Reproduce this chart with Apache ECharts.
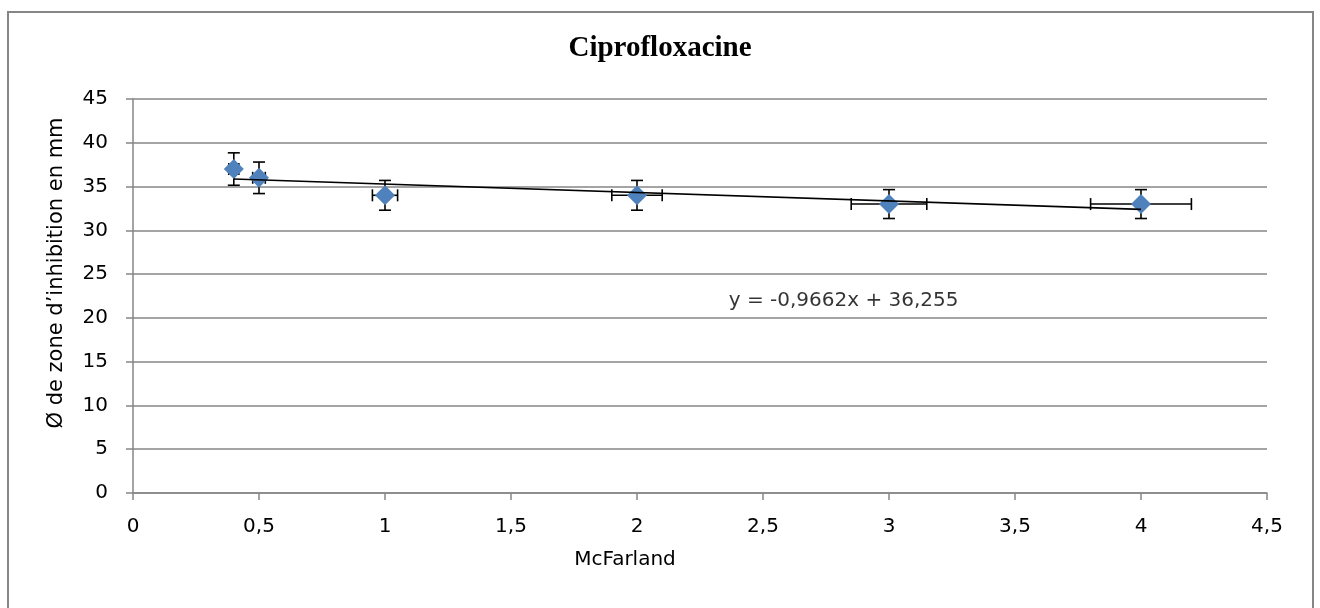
<!DOCTYPE html>
<html>
<head>
<meta charset="utf-8">
<script src="https://cdn.jsdelivr.net/npm/echarts@6/dist/echarts.min.js"></script>
<style>
  html, body { margin: 0; padding: 0; background: #fff; }
  #chart { width: 1320px; height: 608px; }
</style>
</head>
<body>
<div id="chart"></div>
<script>
// McFarland standards and measured inhibition zone diameters (mm)
const mcFarland = [0.4, 0.5, 1, 2, 3, 4];
const diameters = [37, 36, 34, 34, 33, 33];
const xErrors = [0.02, 0.025, 0.05, 0.1, 0.15, 0.2];
const yErrors = [1.85, 1.8, 1.7, 1.7, 1.65, 1.65];

// Linear trend line parameters
const trendSlope = -0.9662;
const trendIntercept = 36.255;
const trendLabel = 'y = -0,9662x + 36,255';
const trendLabelPos = [2.82, 22];

const xTicks = { min: 0, max: 4.5, interval: 0.5 };
const yTicks = { min: 0, max: 45, interval: 5 };

const FONT = '"DejaVu Sans", "Open Sans", sans-serif';
const FONT_SIZE = 20;
const GRAY = '#868686';

const fmt = v => String(v).replace('.', ',');

const points = mcFarland.map((x, i) => [x, diameters[i], xErrors[i], yErrors[i]]);
const xFirst = mcFarland[0], xLast = mcFarland[mcFarland.length - 1];
const trendData = [
  [xFirst, trendSlope * xFirst + trendIntercept],
  [xLast, trendSlope * xLast + trendIntercept]
];

const chart = echarts.init(document.getElementById('chart'));

// Horizontal and vertical error bars with end caps
function renderErrorBars(params, api) {
  const x = api.value(0), y = api.value(1), ex = api.value(2), ey = api.value(3);
  const c = api.coord([x, y]);
  const top = api.coord([x, y + ey]);
  const bot = api.coord([x, y - ey]);
  const lft = api.coord([x - ex, y]);
  const rgt = api.coord([x + ex, y]);
  const cap = 6;
  const style = { stroke: '#000', lineWidth: 1.6 };
  const seg = (x1, y1, x2, y2) => ({ type: 'line', shape: { x1, y1, x2, y2 }, style });
  return {
    type: 'group',
    children: [
      seg(c[0], top[1], c[0], bot[1]),
      seg(c[0] - cap, top[1], c[0] + cap, top[1]),
      seg(c[0] - cap, bot[1], c[0] + cap, bot[1]),
      seg(lft[0], c[1], rgt[0], c[1]),
      seg(lft[0], c[1] - cap, lft[0], c[1] + cap),
      seg(rgt[0], c[1] - cap, rgt[0], c[1] + cap)
    ]
  };
}

chart.setOption({
  animation: false,
  backgroundColor: '#fff',
  grid: { left: 133, right: 53, top: 99, bottom: 115 },
  xAxis: {
    type: 'value',
    min: xTicks.min, max: xTicks.max, interval: xTicks.interval,
    axisLine: { show: true, onZero: false, lineStyle: { color: GRAY, width: 1.5 } },
    axisTick: { show: true, inside: false, length: 7, lineStyle: { color: GRAY, width: 1.5 } },
    axisLabel: { margin: 24, color: '#000', fontFamily: FONT, fontSize: FONT_SIZE, formatter: fmt },
    splitLine: { show: false }
  },
  yAxis: {
    type: 'value',
    min: yTicks.min, max: yTicks.max, interval: yTicks.interval,
    axisLine: { show: true, lineStyle: { color: GRAY, width: 1.5 } },
    axisTick: { show: true, inside: false, length: 7, lineStyle: { color: GRAY, width: 1.5 } },
    axisLabel: { margin: 25, color: '#000', fontFamily: FONT, fontSize: FONT_SIZE, formatter: fmt },
    splitLine: { show: true, lineStyle: { color: GRAY, width: 1.5 } }
  },
  graphic: [
    {
      type: 'rect', silent: true, z: -1,
      shape: { x: 8, y: 12, width: 1305, height: 620 },
      style: { fill: 'none', stroke: GRAY, lineWidth: 2 }
    },
    {
      type: 'text', x: 660, y: 49,
      style: {
        text: 'Ciprofloxacine', fill: '#000', align: 'center', verticalAlign: 'middle',
        font: 'bold 29px "Liberation Serif", "Times New Roman", serif'
      }
    },
    {
      type: 'text', x: 625, y: 560,
      style: { text: 'McFarland', fill: '#000', font: FONT_SIZE + 'px ' + FONT, align: 'center', verticalAlign: 'middle' }
    },
    {
      type: 'text', x: 57, y: 273, rotation: Math.PI / 2,
      style: { text: 'Ø de zone d’inhibition en mm', fill: '#000', font: '21px ' + FONT, align: 'center', verticalAlign: 'middle' }
    }
  ],
  series: [
    {
      type: 'custom',
      name: 'errors',
      renderItem: renderErrorBars,
      data: points,
      encode: { x: 0, y: 1 },
      z: 1
    },
    {
      type: 'scatter',
      name: 'Ciprofloxacine',
      data: points.map(p => [p[0], p[1]]),
      symbol: 'diamond',
      symbolSize: 20,
      itemStyle: { color: '#4F81BD', opacity: 1 },
      z: 2
    },
    {
      type: 'line',
      name: 'trend',
      data: trendData,
      showSymbol: false,
      symbol: 'none',
      lineStyle: { color: '#000', width: 1.6 },
      z: 3
    },
    {
      type: 'scatter',
      name: 'equation',
      data: [trendLabelPos],
      symbolSize: 0,
      label: {
        show: true, position: 'inside', formatter: trendLabel,
        color: '#000', fontFamily: FONT, fontSize: FONT_SIZE
      },
      z: 4
    }
  ]
});
</script>
</body>
</html>
